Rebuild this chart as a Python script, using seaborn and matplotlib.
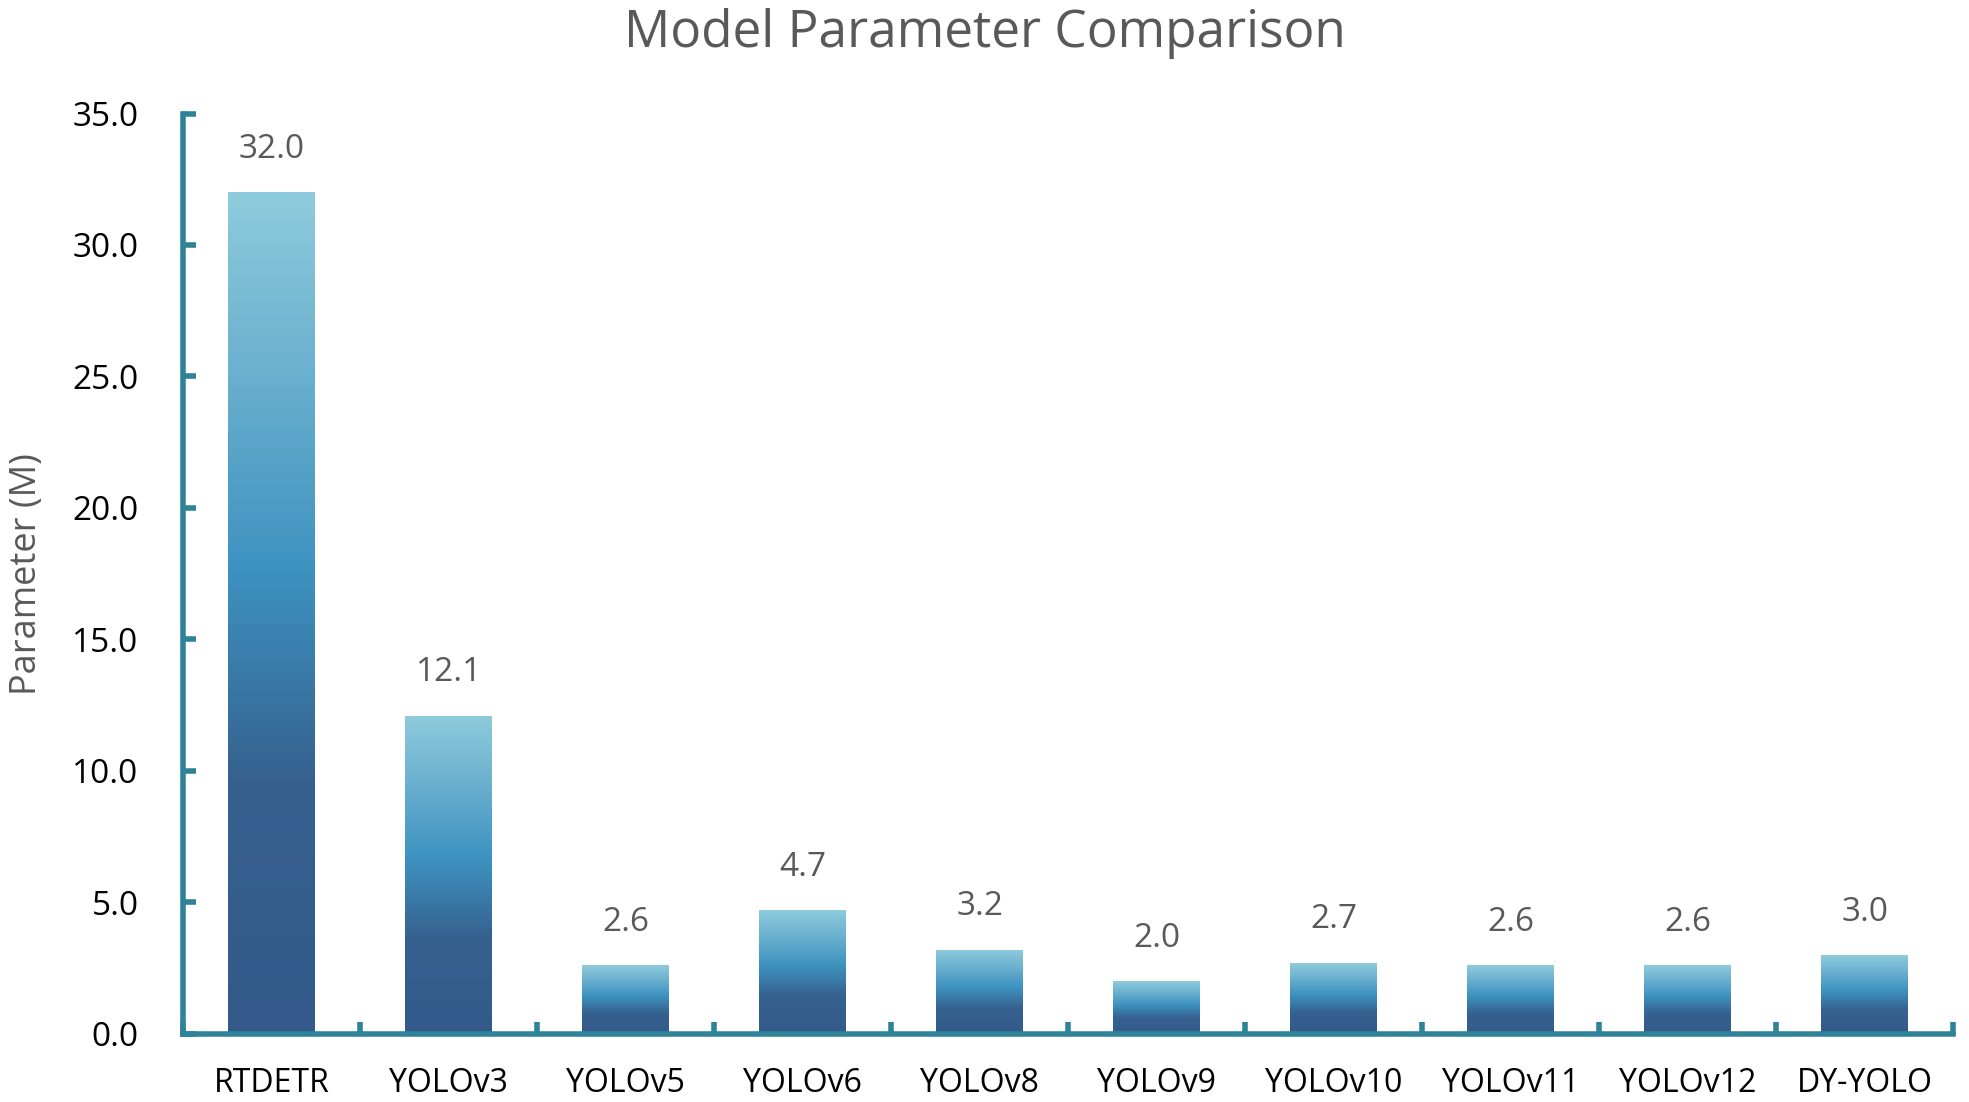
import numpy as np
import pandas as pd
import matplotlib
matplotlib.use("Agg")
import matplotlib.pyplot as plt
from matplotlib.colors import LinearSegmentedColormap
from matplotlib.ticker import FixedLocator, FormatStrFormatter
import seaborn as sns

# Datos del gráfico
models = ["RTDETR", "YOLOv3", "YOLOv5", "YOLOv6", "YOLOv8",
          "YOLOv9", "YOLOv10", "YOLOv11", "YOLOv12", "DY-YOLO"]
params = [32.0, 12.1, 2.6, 4.7, 3.2, 2.0, 2.7, 2.6, 2.6, 3.0]
y_ticks = [0, 5, 10, 15, 20, 25, 30, 35]

sns.set_theme(style="white")
plt.rcParams['font.family'] = ['Open Sans', 'DejaVu Sans']

AXIS = "#2e8399"
GREY = "#595959"

df = pd.DataFrame({"model": models, "param": params})

fig = plt.figure(figsize=(19.69, 11.02), dpi=100)
ax = fig.add_axes([0.093, 0.062, 0.899, 0.835])

sns.barplot(data=df, x="model", y="param", color="#3d8fbf", width=0.49,
            saturation=1, ax=ax)

# degradado vertical dentro de cada barra
grad_cmap = LinearSegmentedColormap.from_list(
    "bar_grad",
    [(0.0, "#335a8a"), (0.3, "#36618f"), (0.55, "#3d92c0"),
     (0.8, "#6db2d0"), (1.0, "#8ecbdc")])
grad = np.linspace(0, 1, 256).reshape(-1, 1)
for p in ax.patches:
    x0, y0 = p.get_x(), p.get_y()
    w, h = p.get_width(), p.get_height()
    p.set_facecolor("none")
    p.set_edgecolor("none")
    im = ax.imshow(grad, cmap=grad_cmap, origin="lower", aspect="auto",
                   extent=[x0, x0 + w, y0, y0 + h], zorder=2)
    im.set_clip_path(p)
    ax.text(x0 + w / 2, h + 1.0, f"{h:.1f}", ha="center", va="bottom",
            fontsize=24, color=GREY)

ax.set_xlim(-0.5, len(models) - 0.5)
ax.set_ylim(0, 35)
ax.yaxis.set_major_locator(FixedLocator(y_ticks))
ax.yaxis.set_major_formatter(FormatStrFormatter("%.1f"))

for s in ["top", "right"]:
    ax.spines[s].set_visible(False)
for s in ["left", "bottom"]:
    ax.spines[s].set_color(AXIS)
    ax.spines[s].set_linewidth(4)

ax.tick_params(axis="y", left=True, direction="in", length=9, width=4,
               color=AXIS, labelsize=24, labelcolor="black", pad=32)
ax.tick_params(axis="x", which="major", bottom=False, length=0, labelsize=23,
               labelcolor="black", pad=24)
ax.set_xticks(np.arange(-0.5, len(models) + 0.5, 1.0), minor=True)
ax.tick_params(axis="x", which="minor", bottom=True, direction="in",
               length=9, width=4, color=AXIS)

ax.set_xlabel("")
ax.set_ylabel("Parameter (M)", fontsize=26, color=GREY, labelpad=20)
fig.suptitle("Model Parameter Comparison", fontsize=37, color=GREY, y=0.993)

fig.savefig("out.png", dpi=100)
plt.close(fig)
